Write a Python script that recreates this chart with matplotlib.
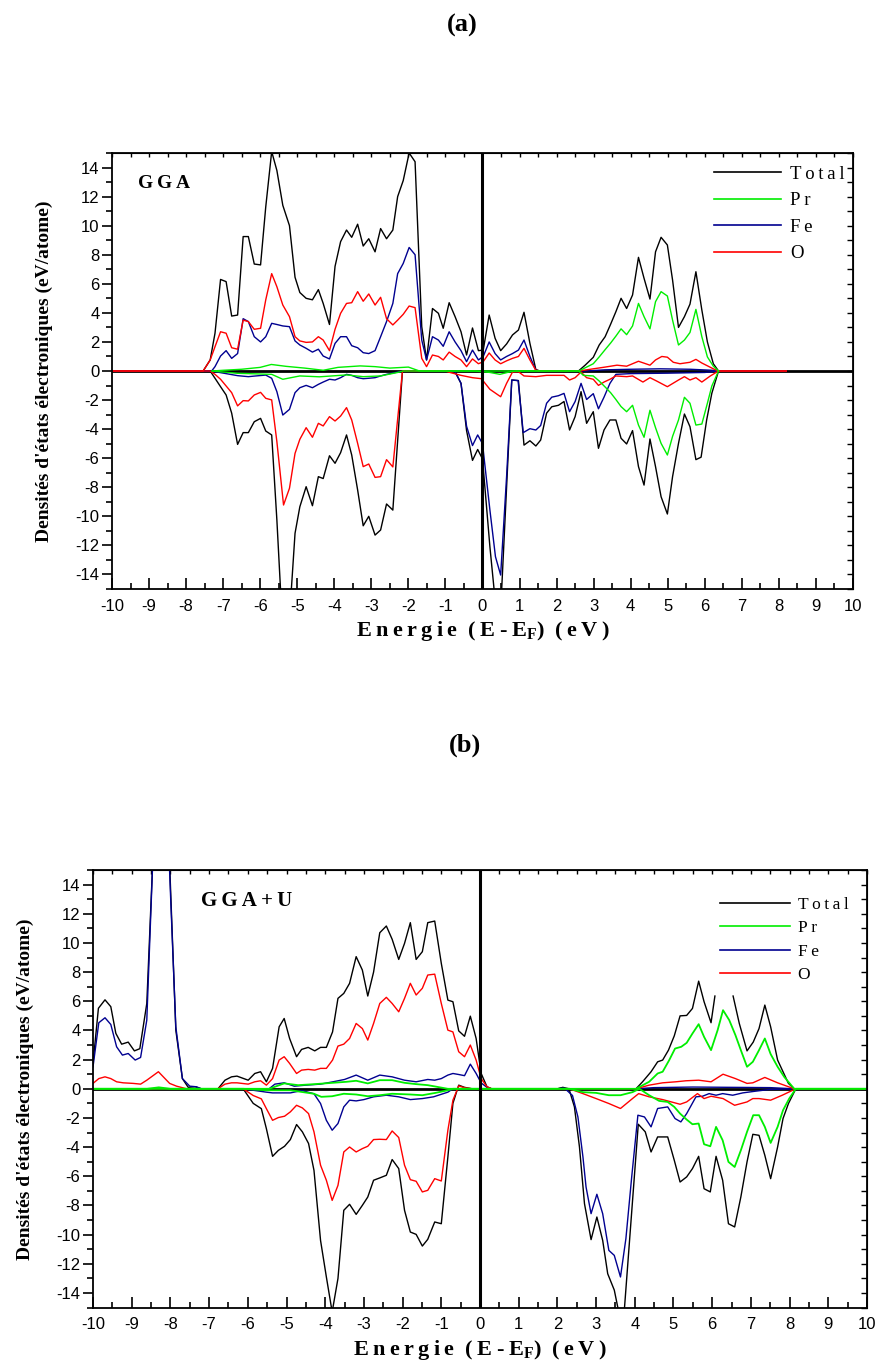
import numpy as np
import matplotlib
matplotlib.use("Agg")
import matplotlib.pyplot as plt
from matplotlib.lines import Line2D

plt.rcParams['axes.unicode_minus'] = False

# ---------------- données (a) GGA : (E-EF, DOS) ----------------
a_tot_up = [(-10,0),(-7.54,0),(-7.35,0.76),(-7.22,2.6),(-7.07,6.3),(-6.92,6.15),(-6.77,3.78),(-6.61,3.85),(-6.46,9.25),(-6.32,9.25),(-6.16,7.36),(-5.99,7.3),(-5.85,11.3),(-5.69,15.1),(-5.55,13.8),(-5.39,11.4),(-5.21,10.0),(-5.06,6.45),(-4.93,5.4),(-4.76,5.0),(-4.59,4.9),(-4.43,5.6),(-4.30,4.65),(-4.13,3.2),(-3.98,7.2),(-3.83,8.9),(-3.67,9.7),(-3.53,9.2),(-3.37,10.1),(-3.22,8.6),(-3.07,9.1),(-2.90,8.2),(-2.75,9.8),(-2.59,9.1),(-2.42,9.7),(-2.29,12.0),(-2.14,13.1),(-1.98,15.0),(-1.82,14.4),(-1.64,3.05),(-1.51,0.76),(-1.35,4.3),(-1.19,3.97),(-1.06,2.94),(-0.90,4.7),(-0.74,3.74),(-0.58,2.7),(-0.43,1.1),(-0.27,2.96),(-0.11,1.4),(0.02,1.44),(0.18,3.85),(0.34,2.25),(0.49,1.4),(0.65,1.86),(0.81,2.48),(0.97,2.82),(1.12,4.04),(1.28,1.9),(1.44,0.1),(1.55,0),(2.59,0),(2.77,0.4),(2.99,0.94),(3.15,1.79),(3.31,2.36),(3.46,3.23),(3.60,4.08),(3.74,5.0),(3.89,4.3),(4.05,5.23),(4.21,7.82),(4.36,6.38),(4.52,4.95),(4.67,8.2),(4.82,9.2),(4.99,8.67),(5.13,6.26),(5.29,3.0),(5.45,3.74),(5.60,4.6),(5.76,6.83),(5.92,4.2),(6.07,2.0),(6.23,0.5),(6.37,0),(8.2,0)]
a_pr_up = [(-7.3,0),(-7.0,0.05),(-6.5,0.12),(-6.0,0.25),(-5.7,0.45),(-5.3,0.32),(-4.8,0.2),(-4.3,0.05),(-3.9,0.25),(-3.3,0.35),(-2.9,0.3),(-2.5,0.2),(-2.0,0.27),(-1.7,0),(2.6,0),(2.99,0.5),(3.15,0.97),(3.31,1.47),(3.46,1.93),(3.60,2.4),(3.74,2.9),(3.89,2.5),(4.05,3.1),(4.21,4.65),(4.36,3.74),(4.52,2.9),(4.67,4.77),(4.82,5.46),(4.99,5.16),(5.13,3.5),(5.29,1.79),(5.45,2.13),(5.60,2.65),(5.76,4.24),(5.92,2.36),(6.07,0.97),(6.23,0.33),(6.37,0)]
a_fe_up = [(-10,0),(-7.31,0),(-7.22,0.3),(-7.07,1.03),(-6.92,1.4),(-6.77,0.87),(-6.61,1.2),(-6.46,3.6),(-6.32,3.4),(-6.16,2.36),(-5.99,2.0),(-5.85,2.36),(-5.69,3.28),(-5.55,3.2),(-5.39,3.1),(-5.21,3.05),(-5.06,2.07),(-4.93,1.79),(-4.76,1.56),(-4.59,1.3),(-4.43,1.5),(-4.30,1.03),(-4.13,0.83),(-3.98,1.9),(-3.83,2.36),(-3.67,2.36),(-3.53,1.74),(-3.37,1.6),(-3.22,1.26),(-3.07,1.2),(-2.90,1.4),(-2.75,2.36),(-2.59,3.4),(-2.42,4.65),(-2.29,6.7),(-2.14,7.4),(-1.98,8.5),(-1.82,8.0),(-1.64,2.13),(-1.51,0.76),(-1.35,2.36),(-1.19,2.13),(-1.06,1.7),(-0.90,2.7),(-0.74,2.0),(-0.58,1.4),(-0.43,0.64),(-0.27,1.44),(-0.11,0.76),(0.02,1.0),(0.18,2.0),(0.34,1.2),(0.49,0.76),(0.65,1.0),(0.81,1.2),(0.97,1.44),(1.12,2.13),(1.28,1.0),(1.44,0.05),(1.55,0),(2.8,0),(3.3,0.08),(4.0,0.12),(4.8,0.15),(5.6,0.12),(6.2,0.05),(6.37,0),(8.2,0)]
a_o_up = [(-10,0),(-7.54,0),(-7.35,0.76),(-7.22,1.67),(-7.07,2.7),(-6.92,2.6),(-6.77,1.6),(-6.61,1.5),(-6.46,3.5),(-6.32,3.4),(-6.16,2.87),(-5.99,2.94),(-5.85,4.9),(-5.69,6.7),(-5.55,5.8),(-5.39,4.54),(-5.21,3.74),(-5.06,2.36),(-4.93,2.07),(-4.76,1.97),(-4.59,2.0),(-4.43,2.36),(-4.30,2.13),(-4.13,1.4),(-3.98,2.87),(-3.83,3.97),(-3.67,4.65),(-3.53,4.7),(-3.37,5.46),(-3.22,4.8),(-3.07,5.3),(-2.90,4.54),(-2.75,5.07),(-2.59,3.6),(-2.42,3.17),(-2.29,3.5),(-2.14,3.9),(-1.98,4.47),(-1.82,4.36),(-1.64,0.87),(-1.51,0.3),(-1.35,1.1),(-1.19,1.0),(-1.06,0.76),(-0.90,1.3),(-0.74,1.0),(-0.58,0.76),(-0.43,0.3),(-0.27,0.83),(-0.11,0.5),(0.02,0.64),(0.18,1.24),(0.34,0.76),(0.49,0.5),(0.65,0.7),(0.81,0.87),(0.97,1.0),(1.12,1.56),(1.28,0.76),(1.44,0.05),(1.55,0),(2.6,0),(2.99,0.15),(3.31,0.27),(3.63,0.4),(3.89,0.33),(4.21,0.67),(4.52,0.4),(4.67,0.76),(4.84,1.0),(4.99,0.95),(5.15,0.6),(5.33,0.5),(5.60,0.6),(5.76,0.8),(5.92,0.55),(6.23,0.15),(6.37,0),(8.2,0)]

a_tot_dn = [(-10,0),(-7.35,0),(-7.22,-0.5),(-7.07,-1.08),(-6.92,-1.65),(-6.77,-2.9),(-6.61,-5.05),(-6.46,-4.24),(-6.32,-4.24),(-6.16,-3.49),(-5.99,-3.26),(-5.85,-4.13),(-5.69,-4.4),(-5.55,-10.25),(-5.39,-18),(-5.21,-17),(-5.06,-11.17),(-4.93,-9.34),(-4.76,-7.96),(-4.59,-9.27),(-4.43,-7.27),(-4.30,-7.4),(-4.13,-5.83),(-3.98,-6.35),(-3.83,-5.62),(-3.67,-4.4),(-3.53,-5.78),(-3.37,-8.19),(-3.22,-10.65),(-3.07,-10.0),(-2.90,-11.29),(-2.75,-10.94),(-2.59,-9.15),(-2.42,-9.57),(-2.16,0),(-0.75,0),(-0.58,-0.85),(-0.43,-4.1),(-0.27,-6.15),(-0.13,-5.4),(0.0,-6.05),(0.2,-12.1),(0.35,-16),(0.49,-16.5),(0.65,-8),(0.79,-0.62),(0.97,-0.66),(1.12,-5.1),(1.28,-4.8),(1.44,-5.16),(1.57,-4.75),(1.73,-2.9),(1.87,-2.46),(2.05,-2.36),(2.20,-2.1),(2.35,-4.06),(2.50,-3.14),(2.66,-1.42),(2.81,-3.6),(2.99,-2.8),(3.13,-5.32),(3.28,-4.06),(3.44,-3.37),(3.60,-3.37),(3.74,-4.63),(3.89,-5.02),(4.05,-4.1),(4.21,-6.58),(4.36,-7.85),(4.52,-4.68),(4.67,-6.58),(4.82,-8.65),(4.99,-9.84),(5.13,-7.27),(5.29,-4.98),(5.45,-2.96),(5.60,-3.83),(5.76,-6.1),(5.90,-5.93),(6.05,-3.37),(6.19,-1.53),(6.37,0),(8.2,0)]
a_pr_dn = [(-7.3,0),(-6.61,-0.16),(-5.69,-0.23),(-5.39,-0.57),(-4.93,-0.34),(-4.4,-0.4),(-3.67,-0.27),(-3.22,-0.39),(-2.75,-0.34),(-2.29,-0.1),(-2.14,0),(-0.2,0),(0.2,-0.1),(0.47,-0.23),(0.75,-0.05),(0.9,0),(2.6,0),(2.72,-0.3),(2.99,-0.34),(3.15,-0.69),(3.31,-1.1),(3.46,-1.5),(3.60,-1.96),(3.74,-2.45),(3.89,-2.8),(4.05,-2.36),(4.21,-3.72),(4.36,-4.56),(4.52,-2.7),(4.67,-3.9),(4.82,-4.98),(4.99,-5.78),(5.13,-4.5),(5.29,-3.37),(5.45,-1.81),(5.6,-2.22),(5.76,-3.72),(5.92,-3.65),(6.07,-2.22),(6.19,-1.03),(6.37,0)]
a_fe_dn = [(-10,0),(-7.31,0),(-7.1,-0.1),(-6.61,-0.32),(-6.32,-0.39),(-6.16,-0.35),(-5.85,-0.28),(-5.69,-0.5),(-5.55,-1.42),(-5.39,-3.03),(-5.21,-2.64),(-5.06,-1.49),(-4.93,-1.15),(-4.76,-0.99),(-4.59,-1.15),(-4.43,-0.92),(-4.30,-0.76),(-4.13,-0.57),(-3.98,-0.62),(-3.83,-0.46),(-3.67,-0.23),(-3.53,-0.3),(-3.37,-0.46),(-3.22,-0.53),(-3.07,-0.5),(-2.90,-0.46),(-2.75,-0.34),(-2.59,-0.23),(-2.29,-0.07),(-2.14,0),(-0.75,0),(-0.58,-0.85),(-0.43,-3.8),(-0.27,-5.13),(-0.13,-4.4),(0.0,-5.0),(0.2,-9.57),(0.35,-12.78),(0.49,-14.04),(0.65,-7.27),(0.79,-0.62),(0.96,-0.66),(1.10,-4.24),(1.28,-3.97),(1.44,-4.06),(1.57,-3.75),(1.73,-2.22),(1.87,-1.8),(2.05,-1.7),(2.20,-1.54),(2.35,-2.8),(2.50,-2.1),(2.66,-0.85),(2.81,-1.96),(2.99,-1.56),(3.13,-2.6),(3.28,-1.8),(3.44,-0.85),(3.60,-0.23),(4.0,-0.18),(5.0,-0.15),(6.0,-0.1),(6.37,0),(8.2,0)]
a_o_dn = [(-10,0),(-7.35,0),(-7.22,-0.23),(-7.07,-0.57),(-6.92,-1.03),(-6.77,-1.49),(-6.61,-2.4),(-6.46,-2.04),(-6.32,-2.06),(-6.16,-1.65),(-5.99,-1.47),(-5.85,-1.88),(-5.69,-1.99),(-5.55,-4.86),(-5.37,-9.22),(-5.21,-8.07),(-5.06,-5.67),(-4.93,-4.7),(-4.76,-3.9),(-4.59,-4.56),(-4.43,-3.6),(-4.30,-3.78),(-4.13,-3.14),(-3.98,-3.44),(-3.83,-3.1),(-3.67,-2.52),(-3.53,-3.37),(-3.37,-4.98),(-3.22,-6.58),(-3.07,-6.4),(-2.90,-7.32),(-2.75,-7.27),(-2.59,-6.1),(-2.42,-6.6),(-2.16,0),(-1.0,0),(-0.88,-0.1),(-0.58,-0.3),(-0.27,-0.46),(-0.03,-0.53),(0.2,-1.26),(0.49,-1.77),(0.65,-0.85),(0.81,-0.07),(0.97,-0.05),(1.12,-0.34),(1.44,-0.39),(1.73,-0.3),(2.2,-0.3),(2.35,-0.62),(2.5,-0.46),(2.66,-0.07),(2.81,-0.46),(2.99,-0.57),(3.13,-0.99),(3.28,-0.76),(3.44,-0.57),(3.6,-0.34),(3.89,-0.39),(4.05,-0.34),(4.33,-0.76),(4.52,-0.46),(4.7,-0.69),(4.99,-1.08),(5.29,-0.62),(5.45,-0.39),(5.6,-0.62),(5.76,-0.46),(5.92,-0.76),(6.15,-0.34),(6.37,0),(8.2,0)]

# ---------------- données (b) GGA+U ----------------
nan = np.nan
b_tot_up = [(-10,1.74),(-9.86,5.52),(-9.69,6.1),(-9.54,5.63),(-9.41,3.8),(-9.26,3.06),(-9.09,3.2),(-8.93,2.6),(-8.79,2.75),(-8.61,5.85),(-8.45,16),(-8.3,25),(-8.15,25),(-8.0,14),(-7.86,4.02),(-7.69,0.7),(-7.54,0.1),(-7.36,0.14),(-7.2,0),(-6.77,0),(-6.59,0.59),(-6.42,0.82),(-6.28,0.87),(-5.99,0.59),(-5.82,1.05),(-5.67,1.17),(-5.52,0.48),(-5.36,1.4),(-5.19,4.25),(-5.06,4.82),(-4.92,3.45),(-4.74,2.2),(-4.61,2.7),(-4.44,2.84),(-4.27,2.6),(-4.12,2.84),(-3.97,2.84),(-3.81,3.9),(-3.67,6.2),(-3.52,6.54),(-3.37,7.23),(-3.2,9.06),(-3.04,8.14),(-2.9,6.36),(-2.75,8.0),(-2.59,10.7),(-2.42,11.16),(-2.27,10.25),(-2.10,8.87),(-1.95,9.97),(-1.80,11.39),(-1.65,8.87),(-1.49,9.4),(-1.35,11.39),(-1.17,11.5),(-1.0,8.6),(-0.83,6.08),(-0.70,5.97),(-0.55,3.97),(-0.40,3.6),(-0.25,4.98),(-0.10,3.45),(0.03,1.05),(0.18,0.14),(0.3,0),(2.0,0),(2.14,0.1),(2.3,0),(4.03,0),(4.2,0.48),(4.42,1.17),(4.59,1.85),(4.72,1.97),(4.87,2.65),(5.02,3.63),(5.17,5.0),(5.34,5.03),(5.49,5.51),(5.65,7.38),(5.79,5.97),(5.97,4.53),(6.07,6.36),(6.3,nan),(6.54,6.36),(6.70,4.48),(6.9,2.6),(7.06,3.2),(7.21,4.13),(7.36,5.74),(7.51,4.25),(7.69,1.97),(7.83,1.17),(7.97,0.37),(8.12,0),(10,0)]
b_fe_up = [(-10,1.5),(-9.85,4.53),(-9.69,4.87),(-9.54,4.41),(-9.39,2.88),(-9.24,2.31),(-9.09,2.42),(-8.91,1.97),(-8.77,2.15),(-8.61,4.71),(-8.45,16),(-8.3,24),(-8.15,24),(-8.0,13.5),(-7.86,4.25),(-7.69,0.7),(-7.5,0.18),(-7.33,0.14),(-7.2,0),(-5.45,0),(-5.3,0.32),(-5.06,0.41),(-4.8,0.18),(-4.5,0.25),(-4.12,0.32),(-3.8,0.48),(-3.5,0.64),(-3.2,0.94),(-2.9,0.59),(-2.59,0.94),(-2.27,0.82),(-1.95,0.59),(-1.65,0.48),(-1.35,0.64),(-1.17,0.59),(-1.0,0.7),(-0.83,0.94),(-0.70,1.05),(-0.55,0.98),(-0.40,0.9),(-0.25,1.69),(-0.10,1.05),(0.03,0.4),(0.18,0.1),(0.3,0),(4.03,0),(4.5,0.08),(5.5,0.12),(6.5,0.1),(7.5,0.08),(8.12,0),(10,0)]
b_o_up = [(-10,0.37),(-9.85,0.7),(-9.69,0.82),(-9.54,0.7),(-9.39,0.48),(-9.22,0.41),(-8.96,0.37),(-8.77,0.32),(-8.61,0.59),(-8.31,1.17),(-8.02,0.37),(-7.84,0.18),(-7.58,0),(-6.77,0),(-6.59,0.32),(-6.42,0.41),(-6.28,0.41),(-5.99,0.32),(-5.82,0.48),(-5.67,0.55),(-5.52,0.25),(-5.36,0.7),(-5.19,1.97),(-5.06,2.2),(-4.92,1.74),(-4.74,1.05),(-4.61,1.28),(-4.44,1.33),(-4.27,1.28),(-4.12,1.4),(-3.97,1.4),(-3.81,1.97),(-3.67,2.93),(-3.52,3.06),(-3.37,3.45),(-3.2,4.48),(-3.04,4.13),(-2.9,3.34),(-2.75,4.48),(-2.59,5.85),(-2.42,6.27),(-2.27,5.85),(-2.10,5.28),(-1.95,6.2),(-1.80,7.23),(-1.65,6.43),(-1.49,6.89),(-1.35,7.8),(-1.17,7.86),(-1.0,5.85),(-0.83,4.02),(-0.70,3.9),(-0.55,2.54),(-0.40,2.2),(-0.25,3.0),(-0.10,1.97),(0.03,0.7),(0.18,0.14),(0.3,0),(4.03,0),(4.37,0.25),(4.72,0.41),(5.06,0.48),(5.32,0.55),(5.65,0.59),(5.97,0.48),(6.28,1.0),(6.6,0.7),(6.9,0.37),(7.05,0.41),(7.36,0.78),(7.69,0.41),(8.12,0),(10,0)]
b_pr_up = [(-10,0),(-8.6,0),(-8.3,0.1),(-8.0,0),(-5.45,0),(-5.3,0.14),(-5.06,0.37),(-4.7,0.25),(-4.27,0.32),(-3.81,0.41),(-3.45,0.48),(-3.2,0.55),(-2.9,0.37),(-2.59,0.59),(-2.27,0.59),(-1.95,0.41),(-1.65,0.32),(-1.35,0.25),(-0.83,0),(4.03,0),(4.37,0.48),(4.59,1.05),(4.72,1.17),(4.89,1.97),(5.04,2.76),(5.2,2.88),(5.34,3.15),(5.49,3.79),(5.65,4.43),(5.79,3.56),(5.97,2.65),(6.14,4.02),(6.28,5.39),(6.44,4.71),(6.6,3.68),(6.74,2.65),(6.9,1.51),(7.05,1.85),(7.21,2.65),(7.36,3.45),(7.51,2.38),(7.69,1.51),(7.86,0.82),(8.12,0),(10,0)]

b_tot_dn = [(-10,0),(-6.12,0),(-5.86,-1.0),(-5.65,-1.36),(-5.52,-2.73),(-5.36,-4.63),(-5.21,-4.22),(-5.05,-3.94),(-4.9,-3.48),(-4.74,-2.45),(-4.59,-2.95),(-4.43,-3.75),(-4.29,-5.59),(-4.12,-10.4),(-3.97,-12.9),(-3.82,-15.3),(-3.67,-13.0),(-3.52,-8.33),(-3.37,-7.92),(-3.2,-8.61),(-3.04,-7.99),(-2.9,-7.42),(-2.75,-6.27),(-2.59,-6.11),(-2.42,-5.93),(-2.27,-4.85),(-2.10,-5.47),(-1.95,-8.33),(-1.80,-9.82),(-1.65,-9.98),(-1.49,-10.78),(-1.35,-10.32),(-1.17,-9.13),(-1.0,-9.25),(-0.83,-4.67),(-0.70,-1.0),(-0.55,0.25),(-0.4,0.1),(-0.2,0),(2.0,0),(2.14,0.05),(2.31,-0.1),(2.44,-1.24),(2.57,-3.99),(2.70,-7.88),(2.87,-10.34),(3.02,-8.79),(3.17,-10.39),(3.30,-12.68),(3.47,-13.8),(3.60,-15.5),(3.72,-15.5),(4.09,-2.43),(4.27,-2.95),(4.42,-4.33),(4.59,-3.3),(4.85,-3.3),(5.02,-4.9),(5.17,-6.39),(5.34,-6.04),(5.49,-5.47),(5.65,-4.63),(5.79,-6.85),(5.95,-7.07),(6.1,-4.63),(6.27,-6.27),(6.42,-9.25),(6.58,-9.47),(6.74,-7.42),(6.9,-5.01),(7.05,-3.12),(7.21,-3.19),(7.36,-4.56),(7.51,-6.16),(7.69,-3.99),(7.83,-2.04),(7.97,-1.01),(8.16,0),(10,0)]
b_fe_dn = [(-10,0),(-6.12,0),(-5.52,-0.23),(-5.36,-0.28),(-4.9,-0.28),(-4.6,-0.12),(-4.29,-0.34),(-4.12,-1.01),(-3.97,-2.16),(-3.82,-2.84),(-3.67,-2.38),(-3.52,-1.24),(-3.37,-0.78),(-3.2,-0.83),(-3.0,-0.74),(-2.75,-0.55),(-2.42,-0.44),(-2.1,-0.55),(-1.8,-0.74),(-1.49,-0.67),(-1.2,-0.55),(-0.83,-0.23),(-0.7,0),(2.0,0),(2.18,0.05),(2.39,-0.46),(2.53,-1.93),(2.66,-4.67),(2.74,-6.73),(2.87,-8.56),(3.02,-7.23),(3.17,-8.56),(3.33,-11.08),(3.47,-11.42),(3.63,-12.9),(3.77,-10.27),(3.92,-6.04),(4.08,-1.81),(4.25,-1.93),(4.42,-2.61),(4.59,-1.35),(4.85,-1.24),(5.04,-2.04),(5.19,-2.27),(5.34,-1.7),(5.58,-0.55),(5.75,-0.51),(5.92,-0.33),(6.1,-0.44),(6.27,-0.33),(6.53,-0.44),(6.79,-0.28),(7.13,-0.16),(7.47,-0.05),(8.16,0),(10,0)]
b_o_dn = [(-10,0),(-6.12,0),(-5.86,-0.46),(-5.65,-0.69),(-5.52,-1.36),(-5.36,-2.16),(-5.21,-1.97),(-5.05,-1.88),(-4.9,-1.58),(-4.74,-1.13),(-4.59,-1.31),(-4.43,-1.7),(-4.29,-2.95),(-4.12,-5.24),(-3.97,-6.27),(-3.82,-7.65),(-3.67,-6.62),(-3.52,-4.33),(-3.37,-3.99),(-3.2,-4.33),(-3.04,-4.1),(-2.9,-3.94),(-2.75,-3.48),(-2.59,-3.46),(-2.42,-3.48),(-2.27,-2.89),(-2.10,-3.34),(-1.95,-5.24),(-1.80,-6.23),(-1.65,-6.34),(-1.49,-7.07),(-1.35,-6.96),(-1.17,-6.16),(-1.0,-6.32),(-0.83,-2.84),(-0.70,-0.78),(-0.55,0.2),(-0.4,0.07),(-0.2,0),(2.31,0),(2.66,-0.33),(3.0,-0.67),(3.33,-1.01),(3.63,-1.35),(3.94,-0.67),(4.10,-0.33),(4.37,-0.55),(4.72,-0.74),(5.17,-1.06),(5.34,-0.9),(5.62,-0.33),(5.79,-0.67),(5.97,-0.51),(6.28,-0.67),(6.58,-1.13),(6.9,-0.9),(7.05,-0.67),(7.21,-0.67),(7.51,-0.78),(7.81,-0.44),(8.16,0),(10,0)]
b_pr_dn = [(-10,0),(-6.12,0),(-5.52,-0.1),(-4.9,-0.1),(-4.29,-0.34),(-4.1,-0.55),(-3.82,-0.51),(-3.52,-0.34),(-3.2,-0.39),(-2.9,-0.51),(-2.59,-0.44),(-2.27,-0.34),(-1.8,-0.39),(-1.49,-0.44),(-1.15,-0.28),(-0.83,-0.1),(-0.7,0),(2.31,0),(2.66,-0.23),(3.0,-0.28),(3.33,-0.44),(3.63,-0.44),(3.94,-0.23),(4.12,0),(4.37,-0.44),(4.63,-0.83),(4.85,-0.9),(5.02,-1.24),(5.17,-1.7),(5.34,-2.11),(5.49,-2.43),(5.65,-2.38),(5.79,-3.8),(5.95,-3.94),(6.1,-2.61),(6.27,-3.53),(6.42,-5.01),(6.58,-5.36),(6.74,-4.22),(6.9,-2.95),(7.06,-1.81),(7.21,-1.81),(7.36,-2.61),(7.51,-3.71),(7.69,-2.61),(7.83,-1.47),(7.99,-0.67),(8.16,0),(10,0)]

labels = ['Total', 'Pr', 'Fe', 'O']
colors = {'Total': 'black', 'Pr': '#00ee00', 'Fe': '#000090', 'O': '#ff0000'}

serif = 'Liberation Serif'
sans = 'Liberation Sans'

def spaced(s):
    return '\u2009'.join(s)

def courbe(ax, pts, name, lw=1.0):
    xy = np.array(pts, dtype=float)
    ax.plot(xy[:, 0], xy[:, 1], color=colors[name], lw=lw)

def habillage(ax):
    ax.set_xlim(-10, 10)
    ax.set_ylim(-15, 15)
    ax.set_xticks(range(-10, 11))
    ax.set_xticks(np.arange(-10, 10.5, 0.5), minor=True)
    ax.set_yticks(range(-14, 15, 2))
    ax.set_yticks(range(-15, 16), minor=True)
    ax.tick_params(axis='x', which='both', direction='in', top=False, width=1.2)
    ax.tick_params(axis='x', which='major', length=8, pad=7)
    ax.tick_params(axis='x', which='minor', length=4)
    ax.tick_params(axis='y', which='both', direction='out', right=False, width=1.2)
    ax.tick_params(axis='y', which='major', length=7, pad=2)
    ax.tick_params(axis='y', which='minor', length=4)
    for lab in ax.get_xticklabels() + ax.get_yticklabels():
        lab.set_fontfamily(sans)
        lab.set_fontsize(12)
    for sp in ax.spines.values():
        sp.set_linewidth(1.3)
    sx = ax.secondary_xaxis('top')
    sx.set_xticks(np.arange(-10, 10.5, 0.5))
    sx.set_xticklabels([])
    sx.tick_params(direction='in', length=3, width=1.0)
    sy = ax.secondary_yaxis('right')
    sy.set_yticks(range(-15, 16))
    sy.set_yticklabels([])
    sy.tick_params(direction='in', length=4, width=1.0)
    ax.axhline(0, color='black', lw=2.0, zorder=1)
    ax.axvline(0, color='black', lw=2.2, zorder=5)
    ax.set_ylabel("Densités d'états électroniques (eV/atome)", fontfamily=serif,
                  fontweight='bold', fontsize=14, labelpad=16)
    ax.set_xlabel(spaced('Energie') + '  ' + spaced('(E-E') + '$_{\\mathregular{F}}$' + spaced(')')
                  + '  ' + spaced('(eV)'),
                  fontfamily=serif, fontweight='bold', fontsize=16, labelpad=4)

fig = plt.figure(figsize=(8.79, 13.7), dpi=100)
W, H = 879, 1370

# ---- (a) ----
ax1 = fig.add_axes([112 / W, 1 - 589 / H, (853 - 112) / W, (589 - 153) / H])
habillage(ax1)
for pts, name in [(a_tot_up, 'Total'), (a_tot_dn, 'Total'), (a_fe_up, 'Fe'), (a_fe_dn, 'Fe'),
                  (a_o_up, 'O'), (a_o_dn, 'O'), (a_pr_up, 'Pr'), (a_pr_dn, 'Pr')]:
    courbe(ax1, pts, name)
ax1.text(0.035, 0.93, spaced('GGA'), transform=ax1.transAxes, fontfamily=serif,
         fontweight='bold', fontsize=14, va='center')
h1 = [Line2D([], [], color=colors[n], lw=1.2) for n in labels]
ax1.legend(h1, [spaced(n) for n in labels], loc='upper right', bbox_to_anchor=(1.012, 1.01),
           frameon=False, handlelength=3.6, handletextpad=0.5, labelspacing=0.5,
           prop={'family': serif, 'size': 13.5})

# ---- (b) ----
ax2 = fig.add_axes([93 / W, 1 - 1307.6 / H, (867 - 93) / W, (1307.6 - 870) / H])
habillage(ax2)
for pts, name in [(b_tot_up, 'Total'), (b_tot_dn, 'Total'), (b_fe_up, 'Fe'), (b_fe_dn, 'Fe'),
                  (b_o_up, 'O'), (b_o_dn, 'O'), (b_pr_up, 'Pr'), (b_pr_dn, 'Pr')]:
    courbe(ax2, pts, name, lw=1.0 if name != 'Pr' else 1.3)
ax2.text(0.14, 0.93, spaced('GGA+U'), transform=ax2.transAxes, fontfamily=serif,
         fontweight='bold', fontsize=15, va='center')
ax2.legend(h1, [spaced(n) for n in labels], loc='upper right', bbox_to_anchor=(0.996, 0.975),
           frameon=False, handlelength=4.0, handletextpad=0.45, labelspacing=0.42,
           prop={'family': serif, 'size': 12.5})

fig.text(462 / W, 1 - 25 / H, '(a)', ha='center', va='center', fontfamily=serif,
         fontweight='bold', fontsize=19)
fig.text(465 / W, 1 - 745 / H, '(b)', ha='center', va='center', fontfamily=serif,
         fontweight='bold', fontsize=19)

fig.savefig('out.png', dpi=100)
